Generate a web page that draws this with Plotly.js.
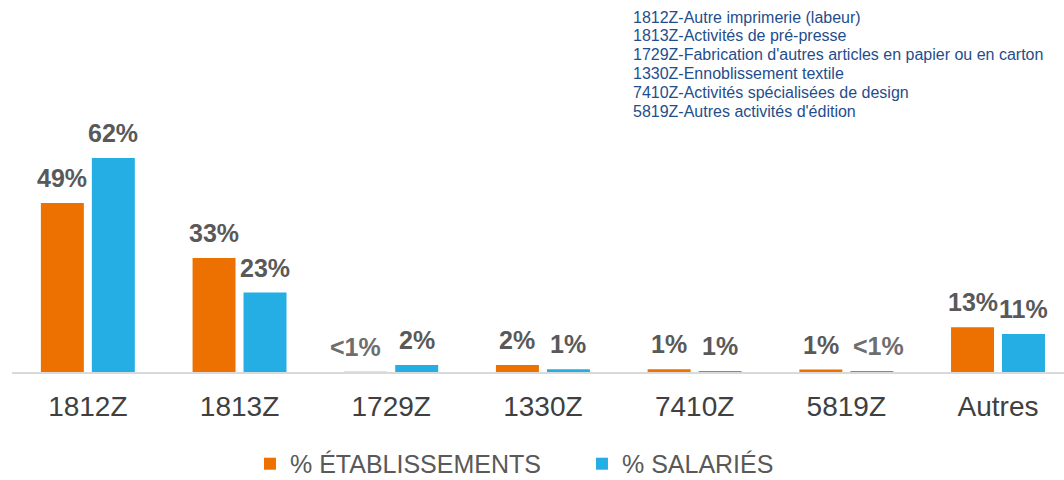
<!DOCTYPE html>
<html>
<head>
<meta charset="utf-8">
<script src="https://cdn.plot.ly/plotly-3.0.1.min.js"></script>
<style>html,body{margin:0;padding:0;background:#fff;}#chart{width:1064px;height:480px;}</style>
</head>
<body>
<div id="chart"></div>
<script>
const categories = ["1812Z", "1813Z", "1729Z", "1330Z", "7410Z", "5819Z", "Autres"];
const etablissements = [49, 33, 0.1, 2, 0.8, 0.7, 13];
const salaries = [62, 23, 2, 0.8, 0.3, 0.3, 11];
const etabLabels = ["49%", "33%", "<1%", "2%", "1%", "1%", "13%"];
const salLabels = ["62%", "23%", "2%", "1%", "1%", "<1%", "11%"];
const seriesNames = ["% ÉTABLISSEMENTS", "% SALARIÉS"];
const legendText = [
  "1812Z-Autre imprimerie (labeur)",
  "1813Z-Activités de pré-presse",
  "1729Z-Fabrication d'autres articles en papier ou en carton",
  "1330Z-Ennoblissement textile",
  "7410Z-Activités spécialisées de design",
  "5819Z-Autres activités d'édition"
];

const ORANGE = "#ED7100";
const BLUE = "#24AEE3";
const FONT = "Liberation Sans, Arial, sans-serif";

const traces = [
  {type: "bar", name: seriesNames[0], x: categories, y: etablissements,
   marker: {color: ORANGE}, hoverinfo: "none"},
  {type: "bar", name: seriesNames[1], x: categories, y: salaries,
   marker: {color: BLUE}, hoverinfo: "none"}
];

const annotations = [];
function addLabels(vals, labels, shift) {
  vals.forEach((v, i) => {
    const weak = labels[i].startsWith("<");
    annotations.push({
      xref: "x", yref: "y", x: categories[i], y: v,
      text: "<b>" + labels[i] + "</b>", showarrow: false,
      xshift: shift + (weak ? (shift < 0 ? -10 : 7) : 0), yshift: 25,
      yanchor: "middle", xanchor: "center",
      font: {family: FONT, size: 25, color: weak ? "#6e6e6e" : "#595959"}
    });
  });
}
addLabels(etablissements, etabLabels, -25.5);
addLabels(salaries, salLabels, 25.5);

legendText.forEach((line, i) => {
  annotations.push({
    xref: "paper", yref: "paper", x: 0.5886, y: 1 + (40 - 17) / 332,
    xanchor: "left", yanchor: "middle", yshift: -i * 18.8,
    align: "left", showarrow: false, text: line,
    font: {family: FONT, size: 16, color: "#1F4E8C"}
  });
});

const layout = {
  width: 1064, height: 480,
  margin: {l: 12, r: 0, t: 40, b: 108, autoexpand: false},
  paper_bgcolor: "#fff", plot_bgcolor: "#fff",
  barmode: "group", bargap: 0.328, bargroupgap: 0.157,
  font: {family: FONT},
  xaxis: {
    type: "category", range: [-0.5, 6.435],
    showgrid: false, zeroline: false, showline: true,
    linecolor: "#D9D9D9", linewidth: 2, ticks: "",
    ticklabelstandoff: 8, automargin: false,
    tickfont: {family: FONT, size: 28, color: "#404040"}
  },
  yaxis: {range: [0, 96.2], visible: false, showgrid: false, zeroline: false, automargin: false},
  showlegend: true,
  legend: {
    orientation: "h", x: 0.2262, xanchor: "left", y: -0.277, yanchor: "middle",
    entrywidth: 287, entrywidthmode: "pixels",
    font: {family: FONT, size: 25, color: "#595959"},
    itemclick: false, itemdoubleclick: false
  },
  annotations: annotations
};

Plotly.newPlot("chart", traces, layout, {displayModeBar: false, staticPlot: true});
</script>
</body>
</html>
